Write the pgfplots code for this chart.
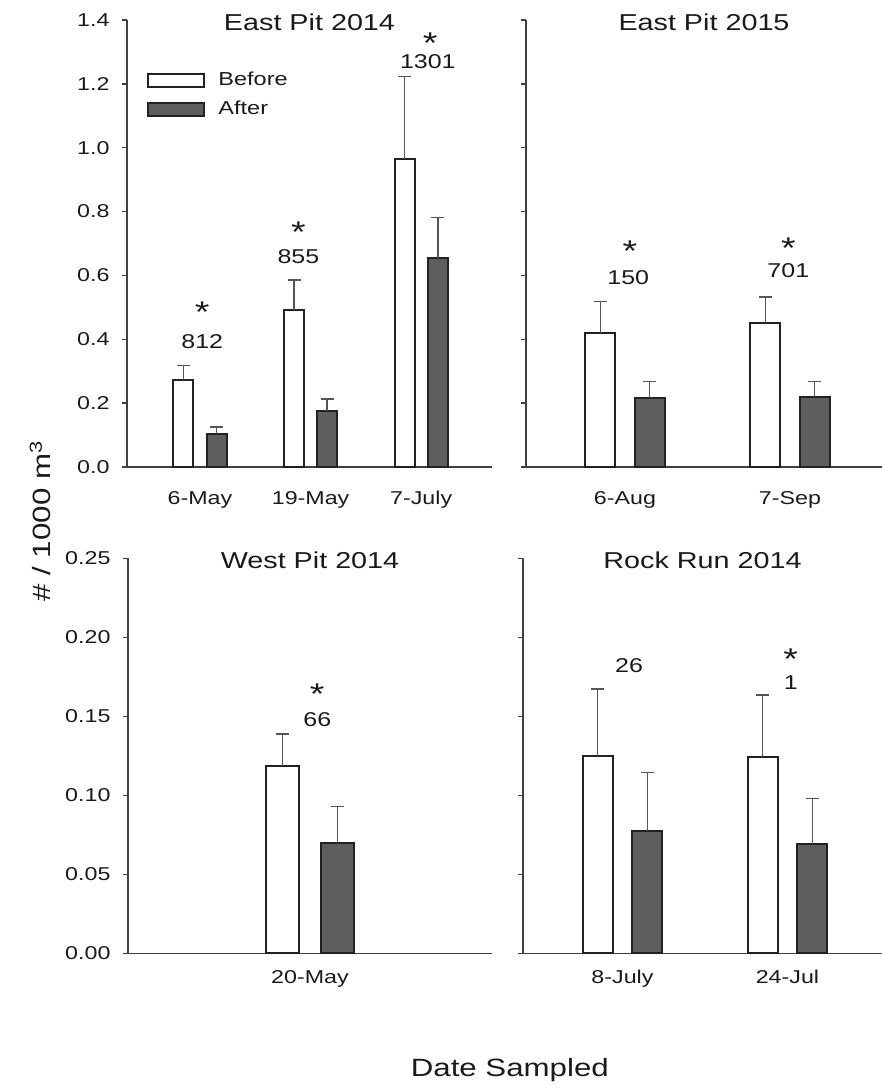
\documentclass[border=0pt]{standalone}
\usepackage{fontspec}
\setmainfont{Liberation Sans}[FakeStretch=1.25]
\usepackage{pgfplots}
\pgfplotsset{compat=1.18}
\definecolor{axgray}{HTML}{404040}
\definecolor{afterfill}{HTML}{5E5E5E}
\definecolor{errgray}{HTML}{555555}
\definecolor{txt}{HTML}{1A1A1A}
\definecolor{barline}{HTML}{222222}

\pgfplotsset{
  panel/.style={
    scale only axis,
    axis x line*=bottom, axis y line*=left,
    axis line style={axgray, line width=0.75pt, -},
    tick align=outside,
    major tick length=2.5pt,
    ytick style={axgray, line width=0.75pt},
    xtick style={draw=none},
    tick label style={font=\fontsize{9.3}{11}\selectfont, text=txt},
    yticklabel style={xshift=-2.75pt},
    ymin=0,
    clip=false,
    title style={at={(0.5,1)}, anchor=center, yshift=-7pt, font=\fontsize{11.5}{13}\selectfont, text=txt},
  },
  errstyle/.style={
    error bars/y dir=plus, error bars/y explicit,
    error bars/error bar style={errgray, line width=0.7pt},
    error bars/error mark options={rotate=90, errgray, line width=0.7pt, mark size=3.25pt}},
  before/.style={ybar, bar width=0.18, bar shift=0pt, draw=barline, fill=white, line width=1pt, errstyle},
  after/.style={ybar, bar width=0.18, bar shift=0pt, draw=barline, fill=afterfill, line width=1pt, errstyle},
}
\tikzset{
  ann/.style={font=\fontsize{10}{12}\selectfont, text=txt, anchor=center, inner sep=0.5pt},
  star/.style={font=\fontsize{15}{16}\selectfont, text=txt, anchor=center, inner sep=0pt, yshift=-2.3pt},
}
\newcommand{\st}{\raisebox{0pt}[\height][-0.5em]{*}}

\begin{document}
\begin{tikzpicture}
\useasboundingbox (0,0) rectangle (441pt,545.5pt);

% ---------- East Pit 2014 ----------
\begin{axis}[panel,
  at={(63.5pt,312pt)}, anchor=south west,
  width=182.5pt, height=223.5pt,
  xmin=0.34, xmax=3.64, ymax=1.4,
  xtick={1,2,3}, xticklabels={6-May,19-May,7-July},
  xticklabel style={yshift=-6pt},
  ytick={0,0.2,0.4,0.6,0.8,1.0,1.2,1.4},
  yticklabels={0.0,0.2,0.4,0.6,0.8,1.0,1.2,1.4},
  title={East Pit 2014},
  ylabel={\# / 1000 m\textsuperscript{3}},
  ylabel style={at={(rel axis cs:-0.238,-0.121)}, anchor=center, font=\fontsize{12.5}{14}\selectfont, text=txt},
  legend style={at={(rel axis cs:0.055,0.894)}, anchor=north west, draw=none, fill=none,
    font=\fontsize{9.4}{11}\selectfont, text=txt, row sep=2.5pt, column sep=4.5pt, inner sep=0pt},
  legend cell align=left,
]
\addlegendimage{legend image code/.code={\draw[draw=barline, fill=white, line width=1pt] (0pt,-3.25pt) rectangle (28pt,3.25pt);}}
\addlegendentry{Before}
\addlegendimage{legend image code/.code={\draw[draw=barline, fill=afterfill, line width=1pt] (0pt,-3.25pt) rectangle (28pt,3.25pt);}}
\addlegendentry{After}
\addplot[forget plot, before] coordinates {(0.85,0.273) +- (0,0.044) (1.85,0.492) +- (0,0.094) (2.85,0.965) +- (0,0.258)};
\addplot[forget plot, after] coordinates {(1.15,0.103) +- (0,0.022) (2.15,0.176) +- (0,0.037) (3.15,0.656) +- (0,0.125)};
\node[ann] at (axis cs:1.02,0.393) {812};
\node[star] at (axis cs:1.02,0.50) {\st};
\node[ann] at (axis cs:1.89,0.66) {855};
\node[star] at (axis cs:1.89,0.75) {\st};
\node[ann] at (axis cs:3.06,1.27) {1301};
\node[star] at (axis cs:3.08,1.343) {\st};
\end{axis}

% ---------- East Pit 2015 ----------
\begin{axis}[panel,
  at={(263pt,312pt)}, anchor=south west,
  width=178pt, height=223.5pt,
  xmin=0.4, xmax=2.558, ymax=1.4,
  xtick={1,2}, xticklabels={6-Aug,7-Sep},
  xticklabel style={yshift=-6pt},
  ytick={0,0.2,0.4,0.6,0.8,1.0,1.2,1.4},
  yticklabels={},
  title={East Pit 2015},
]
\addplot[before] coordinates {(0.85,0.421) +- (0,0.098) (1.85,0.450) +- (0,0.082)};
\addplot[after] coordinates {(1.15,0.217) +- (0,0.050) (2.15,0.220) +- (0,0.047)};
\node[ann] at (axis cs:1.02,0.594) {150};
\node[star] at (axis cs:1.03,0.689) {\st};
\node[ann] at (axis cs:1.99,0.614) {701};
\node[star] at (axis cs:1.99,0.700) {\st};
\end{axis}

% ---------- West Pit 2014 ----------
\begin{axis}[panel,
  at={(64pt,68.85pt)}, anchor=south west,
  width=182pt, height=197.5pt,
  xmin=0, xmax=2, ymax=0.25,
  xtick={1}, xticklabels={20-May},
  xticklabel style={yshift=-2.5pt},
  ytick={0,0.05,0.10,0.15,0.20,0.25},
  yticklabels={0.00,0.05,0.10,0.15,0.20,0.25},
  title={West Pit 2014},
  xlabel={Date Sampled},
  xlabel style={at={(rel axis cs:1.049,-0.295)}, anchor=center, font=\fontsize{12.5}{14}\selectfont, text=txt},
]
\addplot[before] coordinates {(0.85,0.1187) +- (0,0.0201)};
\addplot[after] coordinates {(1.15,0.0696) +- (0,0.0232)};
\node[ann] at (axis cs:1.04,0.1477) {66};
\node[star] at (axis cs:1.04,0.167) {\st};
\end{axis}

% ---------- Rock Run 2014 ----------
\begin{axis}[panel,
  at={(261.5pt,68.85pt)}, anchor=south west,
  width=179.5pt, height=197.5pt,
  xmin=0.397, xmax=2.573, ymax=0.25,
  xtick={1,2}, xticklabels={8-July,24-Jul},
  xticklabel style={yshift=-2.5pt},
  ytick={0,0.05,0.10,0.15,0.20,0.25},
  yticklabels={},
  title={Rock Run 2014},
]
\addplot[before] coordinates {(0.85,0.1249) +- (0,0.0424) (1.85,0.124) +- (0,0.0395)};
\addplot[after] coordinates {(1.15,0.0774) +- (0,0.0369) (2.15,0.069) +- (0,0.029)};
\node[ann] at (axis cs:1.04,0.182) {26};
\node[ann] at (axis cs:2.02,0.171) {1};
\node[star] at (axis cs:2.02,0.189) {\st};
\end{axis}
\end{tikzpicture}
\end{document}
